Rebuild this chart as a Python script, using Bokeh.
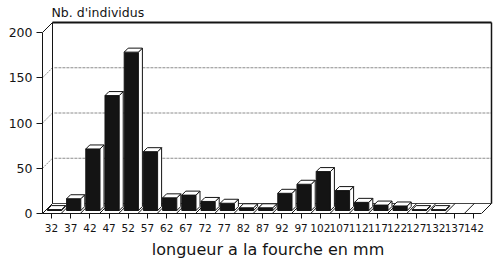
import numpy as np
from bokeh.plotting import figure
from bokeh.models import Range1d, FixedTicker, ColumnDataSource
from bokeh.embed import file_html
from bokeh.resources import INLINE

# Fork-length classes (mm) and number of individuals per class
lengths = [32, 37, 42, 47, 52, 57, 62, 67, 72, 77, 82, 87,
           92, 97, 102, 107, 112, 117, 122, 127, 132, 137, 142]
counts = [1, 13, 68, 127, 175, 65, 14, 17, 10, 8, 3, 3,
          19, 29, 43, 22, 9, 6, 5, 1, 1, 0, 0]
y_ticks = [0, 50, 100, 150, 200]
grid_levels = [50, 100, 150]

# page geometry (pixels)
W, H = 500, 266
B_LEFT, B_RIGHT, B_TOP, B_BOTTOM = 42, 7, 20, 53
FIRST_PX, STEP_PX = 9.0, 19.2          # first class centre from frame left, class spacing
PX_PER_COUNT = 0.905
DEPTH_PX = 10.0

frame_w = W - B_LEFT - B_RIGHT
frame_h = H - B_TOP - B_BOTTOM
x0 = -FIRST_PX / STEP_PX
x1 = x0 + frame_w / STEP_PX
y1 = frame_h / PX_PER_COUNT

DX = DEPTH_PX / STEP_PX                # depth offset in data units
DY = DEPTH_PX / PX_PER_COUNT
wall_right = x1 - 2.0 / STEP_PX
ymax = y_ticks[-1]

FONT = "DejaVu Sans"
INK = "#141414"
GRID = "#8c8c8c"

p = figure(width=W, height=H, output_backend="svg", toolbar_location=None,
           x_range=Range1d(x0, x1), y_range=Range1d(0, y1),
           min_border_left=B_LEFT, min_border_right=B_RIGHT,
           min_border_top=B_TOP, min_border_bottom=B_BOTTOM)
p.outline_line_color = None
p.background_fill_color = "white"
p.border_fill_color = "white"
p.xgrid.visible = False
p.ygrid.visible = False

# title
p.title.text = "Nb. d'individus"
p.title.text_font = FONT
p.title.text_font_size = "12.5px"
p.title.text_font_style = "normal"
p.title.text_color = INK
p.title.align = "left"
p.title.offset = 9
p.title.standoff = 2

# back wall grid lines and depth connectors
for g in grid_levels:
    p.line([x0 + DX + 0.1, wall_right], [g + DY, g + DY], line_color=GRID,
           line_width=1, line_dash="3 1")
for t in y_ticks:
    dark = t in (0, ymax)
    p.line([x0, x0 + DX], [t, t + DY], line_color=INK if dark else GRID,
           line_width=1, line_dash="solid" if dark else "2 1")

# back wall frame
p.line([x0 + DX, x0 + DX], [DY, ymax + DY], line_color=INK, line_width=1)
p.line([x0 + DX, wall_right], [ymax + DY, ymax + DY], line_color=INK, line_width=2)
p.line([wall_right, wall_right], [DY, ymax + DY], line_color=INK, line_width=1.5)
p.line([x0 + DX, wall_right], [DY, DY], line_color=INK, line_width=0.8)

# floor: right edge and slashes between classes
front_right = wall_right - DX
p.line([front_right, wall_right], [0, DY], line_color=INK, line_width=1)
n = len(lengths)
bx = np.arange(n - 1) + 0.5
p.segment(x0=bx, y0=np.zeros(n - 1), x1=bx + DX, y1=np.full(n - 1, DY),
          line_color=INK, line_width=1)

# bars drawn in pseudo-3D
idx = np.arange(n, dtype=float)
vals = np.array(counts, dtype=float)
keep = vals > 0
idx, vals = idx[keep], vals[keep]
half = 0.37
d0, d1 = 0.3, 0.7
xl = idx - half + d0 * DX
xr = idx + half + d0 * DX
yb = np.full_like(vals, d0 * DY)
yt = vals + d0 * DY
ddx = (d1 - d0) * DX
ddy = (d1 - d0) * DY

front = ColumnDataSource(dict(left=xl, right=xr, bottom=yb, top=yt))
p.quad(left="left", right="right", bottom="bottom", top="top", source=front,
       fill_color=INK, line_color=INK, line_width=1)

side_xs = [[r, r + ddx, r + ddx, r] for r in xr]
side_ys = [[b, b + ddy, t + ddy, t] for b, t in zip(yb, yt)]
top_xs = [[l, r, r + ddx, l + ddx] for l, r in zip(xl, xr)]
top_ys = [[t, t, t + ddy, t + ddy] for t in yt]
p.patches(xs=side_xs, ys=side_ys, fill_color="white", line_color=INK, line_width=1)
p.patches(xs=top_xs, ys=top_ys, fill_color="white", line_color=INK, line_width=1)

# axes
yax = p.yaxis[0]
yax.bounds = (0, ymax)
yax.ticker = FixedTicker(ticks=y_ticks)
yax.minor_tick_line_color = None
yax.major_tick_in = 0
yax.major_tick_out = 6
yax.major_label_standoff = 4
yax.major_label_text_font = FONT
yax.major_label_text_font_size = "12.5px"
yax.major_label_text_color = INK
yax.axis_line_color = INK
yax.major_tick_line_color = INK

xax = p.xaxis[0]
xax.bounds = (x0, front_right)
xax.ticker = FixedTicker(ticks=list(range(n)))
xax.major_label_overrides = {i: str(v) for i, v in enumerate(lengths)}
xax.minor_tick_line_color = None
xax.major_tick_in = 0
xax.major_tick_out = 5
xax.major_label_standoff = 5
xax.major_label_text_font = FONT
xax.major_label_text_font_size = "10.5px"
xax.major_label_text_color = INK
xax.axis_line_color = INK
xax.major_tick_line_color = INK
xax.axis_label = "longueur a la fourche en mm"
xax.axis_label_text_font = FONT
xax.axis_label_text_font_size = "16px"
xax.axis_label_text_font_style = "normal"
xax.axis_label_text_color = INK
xax.axis_label_standoff = 5

open("out.html", "w").write(file_html(p, INLINE))
